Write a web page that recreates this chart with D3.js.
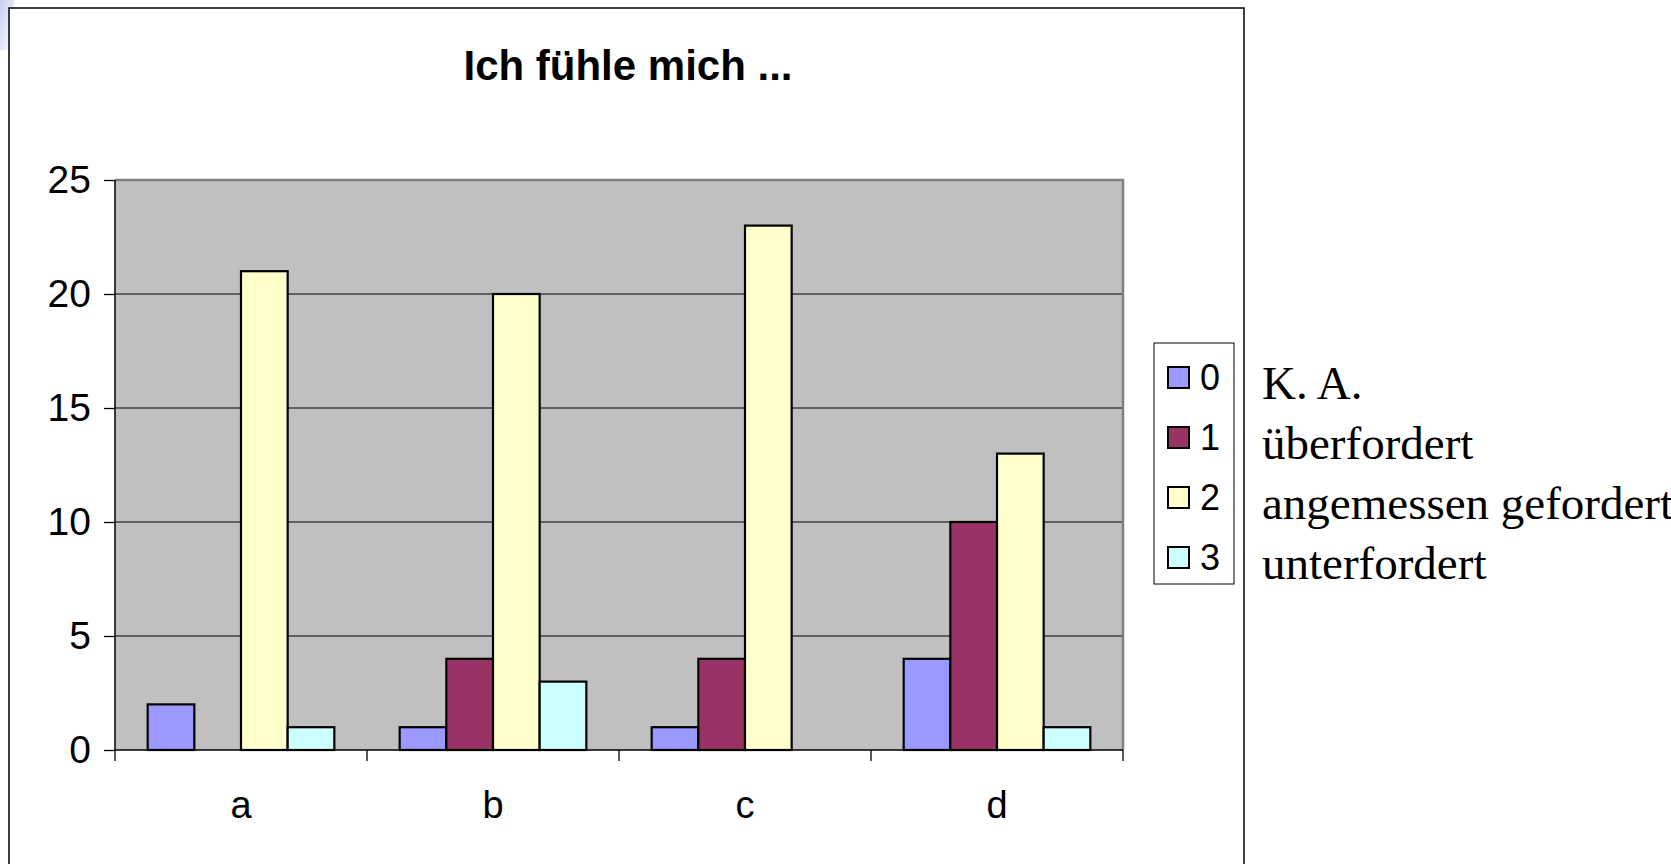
<!DOCTYPE html>
<html>
<head>
<meta charset="utf-8">
<script src="https://cdn.jsdelivr.net/npm/d3@7"></script>
<style>
  body { margin: 0; background: #fff; }
  svg { display: block; }
</style>
</head>
<body>
<svg width="1671" height="864"></svg>
<script>
// data
var categories = ["a", "b", "c", "d"];
var seriesKeys = ["0", "1", "2", "3"];
var seriesNames = ["K. A.", "überfordert", "angemessen gefordert", "unterfordert"];
var values0 = [2, 1, 1, 4];
var values1 = [0, 4, 4, 10];
var values2 = [21, 20, 23, 13];
var values3 = [1, 3, 0, 1];
var yTicks = [0, 5, 10, 15, 20, 25];

var seriesValues = [values0, values1, values2, values3];

function getcolor(key){
  if(key=="0"){
    return "#9999ff"
  }else if(key=="1"){
    return "#993366"
  }else if(key=="2"){
    return "#ffffcc"
  }else if(key=="3"){
    return "#ccffff"
  }
  return "#ffffff"
}

var svg = d3.select("svg");

// slide background corner
var grad = svg.append("defs").append("linearGradient")
    .attr("id", "corner").attr("x1", 0).attr("y1", 0).attr("x2", 1).attr("y2", 1);
grad.append("stop").attr("offset", "0%").attr("stop-color", "#c8ccf0");
grad.append("stop").attr("offset", "100%").attr("stop-color", "#ffffff");
svg.append("rect").attr("x", 0).attr("y", 0).attr("width", 14).attr("height", 50)
    .attr("fill", "url(#corner)");

// outer chart frame
svg.append("rect")
    .attr("x", 9).attr("y", 8)
    .attr("width", 1235).attr("height", 900)
    .attr("fill", "#fff")
    .attr("stroke", "#000")
    .attr("stroke-width", 1.5);

var plot = {left: 115, top: 180, right: 1123, bottom: 750};

var x0 = d3.scaleBand()
    .domain(categories)
    .range([plot.left, plot.right])
    .padding(0);

var x1 = d3.scaleBand()
    .domain(seriesKeys)
    .range([0, x0.bandwidth()])
    .paddingInner(0)
    .paddingOuter(0.7);

var y = d3.scaleLinear()
    .domain([0, 25])
    .range([plot.bottom, plot.top]);

// plot area
svg.append("rect")
    .attr("x", plot.left).attr("y", plot.top)
    .attr("width", plot.right - plot.left)
    .attr("height", plot.bottom - plot.top)
    .attr("fill", "#c0c0c0");

// gridlines
svg.append("g")
    .selectAll("line")
    .data(yTicks.filter(function(d){ return d > 0 && d < 25; }))
    .enter().append("line")
    .attr("x1", plot.left).attr("x2", plot.right)
    .attr("y1", function(d){ return y(d); })
    .attr("y2", function(d){ return y(d); })
    .attr("stroke", "#000")
    .attr("stroke-width", 1);

// gray border top/right
svg.append("path")
    .attr("d", "M" + plot.left + "," + plot.top + "H" + plot.right + "V" + plot.bottom)
    .attr("fill", "none")
    .attr("stroke", "#808080")
    .attr("stroke-width", 2.5);

// bars
var rows = categories.map(function(c, i){
  return {cat: c, vals: seriesKeys.map(function(k, j){ return {key: k, value: seriesValues[j][i]}; })};
});

var group = svg.append("g").selectAll("g")
    .data(rows)
    .enter().append("g")
    .attr("transform", function(d){ return "translate(" + x0(d.cat) + ",0)"; });

group.selectAll("rect")
    .data(function(d){ return d.vals.filter(function(v){ return v.value > 0; }); })
    .enter().append("rect")
    .attr("x", function(d){ return x1(d.key); })
    .attr("y", function(d){ return y(d.value); })
    .attr("width", x1.bandwidth())
    .attr("height", function(d){ return y(0) - y(d.value); })
    .attr("fill", function(d){ return getcolor(d.key); })
    .attr("stroke", "#000")
    .attr("stroke-width", 2.2);

// y axis
var yAxis = svg.append("g")
    .attr("transform", "translate(" + plot.left + ",0)")
    .call(d3.axisLeft(y).tickValues(yTicks).tickSize(11).tickPadding(13));
yAxis.selectAll("text")
    .style("font-family", "Liberation Sans, Arial")
    .style("font-size", "39px")
    .attr("fill", "#000");
yAxis.selectAll("line").attr("stroke", "#000").attr("stroke-width", 1.3);
yAxis.select(".domain").attr("stroke", "#000").attr("stroke-width", 1.5)
    .attr("d", "M0," + plot.top + "V" + plot.bottom);

// x axis
svg.append("line")
    .attr("x1", plot.left).attr("x2", plot.right)
    .attr("y1", plot.bottom).attr("y2", plot.bottom)
    .attr("stroke", "#000").attr("stroke-width", 1.5);

var catEdges = categories.map(function(c){ return x0(c); }).concat([plot.right]);
svg.append("g").selectAll("line")
    .data(catEdges)
    .enter().append("line")
    .attr("x1", function(d){ return d; }).attr("x2", function(d){ return d; })
    .attr("y1", plot.bottom).attr("y2", plot.bottom + 11)
    .attr("stroke", "#000").attr("stroke-width", 1.3);

svg.append("g").selectAll("text")
    .data(categories)
    .enter().append("text")
    .attr("x", function(d){ return x0(d) + x0.bandwidth() / 2; })
    .attr("y", 818)
    .attr("text-anchor", "middle")
    .style("font-family", "Liberation Sans, Arial")
    .style("font-size", "38px")
    .text(function(d){ return d; });

// title
svg.append("text")
    .attr("x", 628).attr("y", 80)
    .attr("text-anchor", "middle")
    .style("font-family", "Liberation Sans, Arial")
    .style("font-weight", "bold")
    .style("font-size", "42px")
    .text("Ich fühle mich ...");

// legend box
svg.append("rect")
    .attr("x", 1154).attr("y", 343)
    .attr("width", 80).attr("height", 241)
    .attr("fill", "#fff")
    .attr("stroke", "#000")
    .attr("stroke-width", 1);

var legendY = d3.scalePoint().domain(seriesKeys).range([377, 557]);

var legend = svg.append("g").selectAll("g")
    .data(seriesKeys)
    .enter().append("g")
    .attr("transform", function(d){ return "translate(1168," + legendY(d) + ")"; });

legend.append("rect")
    .attr("x", 0).attr("y", -10)
    .attr("width", 21).attr("height", 21)
    .attr("fill", function(d){ return getcolor(d); })
    .attr("stroke", "#000")
    .attr("stroke-width", 2);

legend.append("text")
    .attr("x", 32).attr("y", 13)
    .style("font-family", "Liberation Sans, Arial")
    .style("font-size", "36px")
    .text(function(d){ return d; });

// legend explanations outside the frame
svg.append("g").selectAll("text")
    .data(seriesNames)
    .enter().append("text")
    .attr("x", 1262)
    .attr("y", function(d, i){ return legendY(seriesKeys[i]) + 22; })
    .style("font-family", "Liberation Serif, Times New Roman")
    .style("font-size", "47px")
    .text(function(d){ return d; });
</script>
</body>
</html>
